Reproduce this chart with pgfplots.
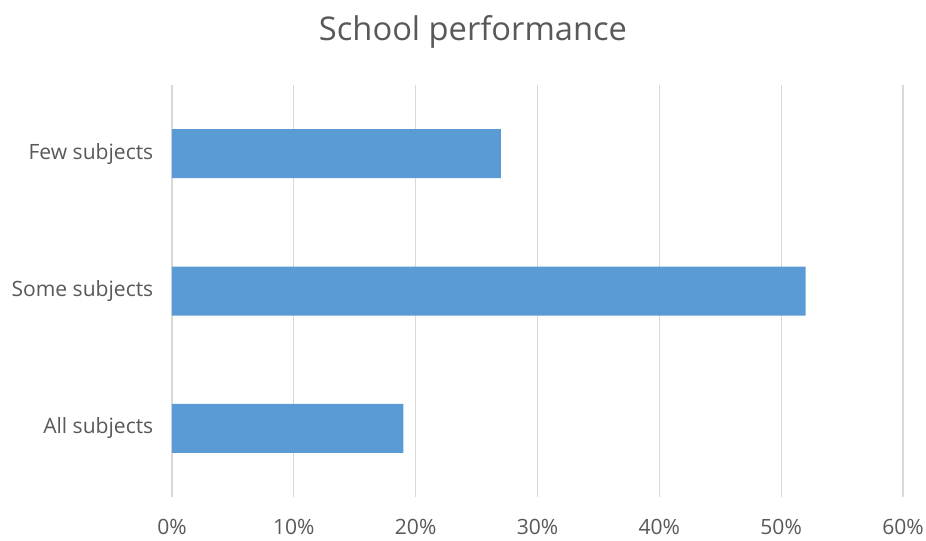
\documentclass[border=0pt]{standalone}
\usepackage{pgfplots}
\pgfplotsset{compat=1.18}
\usepackage{fontspec}
\setmainfont{Open Sans}
\definecolor{barblue}{HTML}{5B9BD5}
\definecolor{gridgray}{HTML}{D9D9D9}
\definecolor{labelgray}{HTML}{595959}
\begin{document}
\begin{tikzpicture}
\useasboundingbox (-129pt,-32.25pt) rectangle (565.5pt,372.75pt);
\begin{axis}[
  at={(0,0)}, anchor=south west, scale only axis,
  width=548.25pt, height=309pt,
  xbar, bar width=36.75pt,
  xmin=0, xmax=60, ymin=-0.5, ymax=2.5,
  xtick={0,10,20,30,40,50,60},
  xticklabels={0\%,10\%,20\%,30\%,40\%,50\%,60\%},
  ytick={0,1,2},
  yticklabels={All subjects,Some subjects,Few subjects},
  axis line style={draw=none}, major tick length=0pt,
  xmajorgrids, grid style={gridgray, line width=0.9pt},
  tick label style={font=\fontsize{15.8}{19}\selectfont, text=labelgray},
  xticklabel style={yshift=-13pt},
  yticklabel style={xshift=-10.5pt},
]
\addplot[fill=barblue, draw=none] coordinates {(19,0) (52,1) (27,2)};
\end{axis}
\node[font=\fontsize{24.5}{29}\selectfont, text=labelgray] at (225.75pt,348.5pt) {School performance};
\end{tikzpicture}
\end{document}
